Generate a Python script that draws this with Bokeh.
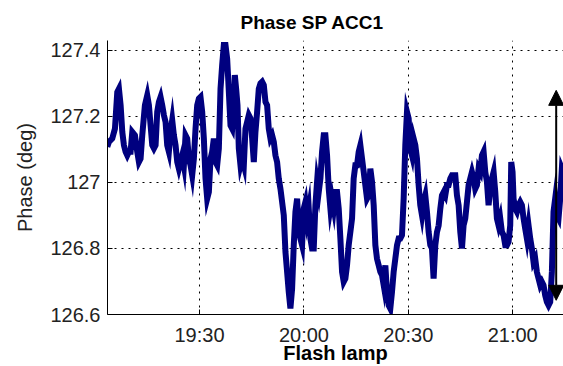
from bokeh.plotting import figure
from bokeh.models import Range1d, FixedTicker, Arrow, NormalHead
from bokeh.embed import file_html
from bokeh.resources import INLINE

# Flash lamp phase set point, ACC1 — time in minutes after 19:00, phase in degrees
minutes = [
    3.49, 3.97, 4.92, 5.69, 6.36, 6.84, 7.32, 7.80, 8.27, 8.75, 9.23, 9.71, 10.19, 10.67,
    11.43, 12.10, 12.58, 13.06, 13.54, 14.30, 14.97, 15.45, 15.93, 16.41, 16.89, 17.37,
    17.84, 18.32, 18.80, 19.28, 19.76, 20.24, 20.71, 21.19, 21.67, 22.15, 22.63, 23.11,
    23.59, 24.06, 24.54, 25.02, 25.50, 25.98, 26.46, 26.94, 27.41, 27.89, 28.37, 28.85,
    29.33, 29.81, 30.28, 30.76, 31.24, 31.72, 32.20, 32.68, 33.16, 33.63, 34.11,
    34.59, 35.07, 35.55, 36.03, 36.50, 36.98, 37.46, 37.94, 38.23, 38.61, 38.90, 39.38,
    39.85, 40.14, 40.52, 40.91, 41.29, 41.77, 42.25, 42.73, 43.20, 43.68, 44.16, 44.64,
    45.12, 45.60, 46.07, 46.55, 47.03, 47.51, 47.99, 48.47, 48.95, 49.42, 49.90, 50.38,
    50.86, 51.34, 51.82, 52.29, 52.77, 53.25, 53.73, 54.21, 54.69, 55.17, 55.64, 56.12,
    56.60, 57.08, 57.56, 58.04, 58.52, 58.99, 59.47, 59.95, 60.43, 60.91, 61.39, 61.86,
    62.34, 62.82, 63.30, 63.78, 64.26, 64.74, 65.21, 65.69,
    66.17, 66.65, 67.13, 67.61, 68.08, 68.56, 69.04, 69.52, 70.00, 70.48, 70.96, 71.43,
    71.91, 72.39, 72.87, 73.35, 73.83, 74.30, 74.78, 75.26, 75.74, 76.22, 76.70, 77.18,
    77.65, 78.13, 78.61, 79.09, 79.57, 80.05, 80.53, 81.00, 81.48, 81.96, 82.44, 82.92,
    83.40, 83.87, 84.35, 84.83, 85.31, 85.79, 86.27, 86.75, 87.22, 87.70, 88.18, 88.66,
    89.14, 89.62, 90.10, 90.57, 91.05, 91.53, 92.01, 92.49, 92.97, 93.44, 93.92, 94.40,
    94.88, 95.36, 95.84, 96.32, 96.79, 97.27,
    97.76, 98.24, 98.72, 99.20, 99.67, 100.15, 100.63, 101.11, 101.59, 102.07, 102.55,
    103.02, 103.50, 103.98, 104.46, 104.94, 105.42, 105.89, 106.37, 106.85, 107.33,
    107.81, 108.29, 108.77, 109.24, 109.72, 110.20, 110.68, 111.16, 111.64, 112.12,
    112.59, 113.07, 113.55, 114.03, 114.51, 114.99, 115.46, 115.94, 116.42, 116.90,
    117.38, 117.86, 118.34, 118.81, 119.29, 119.58, 119.96, 120.25, 120.73, 121.21,
    121.69, 122.16, 122.64, 123.12, 123.60, 124.08, 124.56, 125.04, 125.51, 125.99,
    126.47, 126.95, 127.43, 127.91, 128.38, 128.86, 129.34, 129.82, 130.30, 130.78,
    131.26, 131.73, 132.21, 132.69, 133.17, 133.65, 134.13, 134.51,
]

phase = [
    127.108, 127.123, 127.133, 127.163, 127.274, 127.284, 127.234, 127.153, 127.113,
    127.093, 127.082, 127.093, 127.093, 127.153, 127.143, 127.093, 127.062, 127.072,
    127.143, 127.234, 127.264, 127.234, 127.173, 127.113, 127.103, 127.113, 127.214,
    127.244, 127.259, 127.234, 127.204, 127.183, 127.113, 127.093, 127.153, 127.189,
    127.143, 127.113, 127.062, 127.042, 127.062, 127.082, 127.052, 127.143, 127.133,
    127.072, 127.052, 127.022, 127.072, 127.163, 127.234, 127.254, 127.259, 127.214,
    127.133, 127.012, 126.951, 126.971, 127.072, 127.093, 127.133,
    127.062, 127.052, 127.103, 127.284, 127.355, 127.416, 127.416, 127.375, 127.315,
    127.234, 127.173, 127.163, 127.234, 127.325, 127.284, 127.234, 127.103, 127.052,
    127.072, 127.052, 127.163, 127.183, 127.204, 127.194, 127.133, 127.062, 127.153,
    127.214, 127.284, 127.300, 127.305, 127.295, 127.244, 127.234, 127.163, 127.133,
    127.143, 127.123, 127.082, 127.062, 127.012, 126.981, 126.941, 126.901, 126.790,
    126.729, 126.668, 126.618, 126.678, 126.810, 126.911, 126.951, 126.860, 126.830,
    126.810, 126.921, 126.941, 126.891, 126.921, 126.830, 126.800, 126.800, 126.931,
    127.002, 126.971, 127.012, 127.093, 127.143,
    127.143, 127.082, 126.981, 126.921, 126.951, 126.921, 126.971, 126.971, 126.921,
    126.830, 126.729, 126.699, 126.709, 126.749, 126.810, 126.850, 126.891, 127.012,
    127.052, 127.052, 127.093, 127.113, 127.072, 127.032, 126.992, 126.951, 126.961,
    127.042, 127.002, 126.931, 126.810, 126.769, 126.749, 126.729, 126.719, 126.689,
    126.749, 126.668, 126.628, 126.618, 126.668, 126.729, 126.769, 126.810, 126.830,
    126.830, 126.840, 126.951, 127.113, 127.214, 127.194, 127.103, 127.082, 127.133,
    127.113, 127.072, 126.992, 126.931, 126.901, 126.941, 126.961, 126.911, 126.850,
    126.810, 126.800, 126.709,
    126.810, 126.850, 126.870, 126.921, 126.961, 126.971, 126.961, 126.992, 126.992,
    127.012, 127.022, 127.022, 127.022, 126.961, 126.931, 126.850, 126.800, 126.870,
    126.891, 126.941, 126.992, 127.012, 127.032, 127.012, 126.981, 126.992, 127.042,
    127.032, 127.082, 127.093, 127.032, 127.002, 126.931, 126.981, 127.012, 127.032,
    126.971, 126.891, 126.870, 126.891, 126.850, 126.840, 126.810, 126.810, 126.820,
    126.870, 127.062, 127.032, 126.951, 126.921, 126.911, 126.931, 126.941, 126.931,
    126.891, 126.860, 126.830, 126.870, 126.830, 126.800, 126.759, 126.769, 126.729,
    126.709, 126.689, 126.699, 126.689, 126.658, 126.638, 126.628, 126.638, 126.729,
    126.911, 126.951, 126.901, 126.891, 126.951, 127.042, 127.032,
]

x_ticks = [30, 60, 90, 120]
x_tick_labels = ["19:30", "20:00", "20:30", "21:00"]
y_ticks = [126.6, 126.8, 127.0, 127.2, 127.4]
y_tick_labels = ["126.6", "126.8", "127", "127.2", "127.4"]

# Peak-to-peak span marker near the end of the record
arrow_x = 132.5
arrow_top = 127.279
arrow_bottom = 126.643

FONT = "Liberation Sans"

p = figure(
    width=563, height=366,
    x_range=Range1d(3.55, 134.6), y_range=Range1d(126.6, 127.43),
    output_backend="svg", toolbar_location=None,
    min_border_left=107, min_border_right=0, min_border_top=40, min_border_bottom=52,
    title="Phase SP ACC1",
)
p.outline_line_color = None
p.background_fill_color = "white"
p.border_fill_color = "white"

p.title.text_font = FONT
p.title.text_font_size = "19px"
p.title.text_font_style = "bold"
p.title.text_color = "black"
p.title.align = "left"
p.title.offset = 133
p.title.standoff = 16

p.line(minutes, phase, line_color="#00007f", line_width=6, line_join="miter")

p.add_layout(Arrow(
    start=NormalHead(size=15, fill_color="black", line_color="black"),
    end=NormalHead(size=15, fill_color="black", line_color="black"),
    x_start=arrow_x, y_start=arrow_bottom, x_end=arrow_x, y_end=arrow_top,
    line_color="black", line_width=2,
))

p.xaxis.ticker = FixedTicker(ticks=x_ticks)
p.xaxis.major_label_overrides = dict(zip(x_ticks, x_tick_labels))
p.yaxis.ticker = FixedTicker(ticks=y_ticks)
p.yaxis.major_label_overrides = dict(zip(y_ticks, y_tick_labels))

p.xaxis.axis_label = "Flash lamp"
p.yaxis.axis_label = "Phase (deg)"

for ax in (p.xaxis, p.yaxis):
    ax.axis_line_color = "black"
    ax.axis_line_width = 1
    ax.major_tick_in = 5
    ax.major_tick_out = 0
    ax.major_tick_line_color = "black"
    ax.minor_tick_line_color = None
    ax.major_label_text_font = FONT
    ax.major_label_text_font_size = "20px"
    ax.major_label_text_color = "#222222"
    ax.axis_label_text_font = FONT
    ax.axis_label_text_font_size = "20px"
    ax.axis_label_text_color = "#222222"

p.xaxis.axis_label_text_font_style = "bold"
p.xaxis.axis_label_text_color = "black"
p.xaxis.major_label_standoff = 9
p.xaxis.axis_label_standoff = -7
p.yaxis.axis_label_text_font_style = "normal"
p.yaxis.major_label_standoff = 7
p.yaxis.axis_label_standoff = 11

for g in (p.xgrid, p.ygrid):
    g.grid_line_color = "black"
    g.grid_line_dash = "2 5"
    g.grid_line_width = 1

open("out.html", "w").write(file_html(p, INLINE))
